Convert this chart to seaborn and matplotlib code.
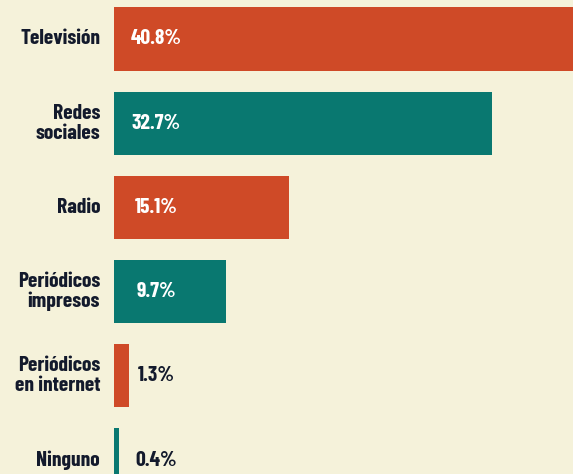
import matplotlib
matplotlib.use("Agg")
import matplotlib.pyplot as plt
from matplotlib import font_manager as fm
import seaborn as sns
import pandas as pd

categories = ["Televisión", "Redes\nsociales", "Radio", "Periódicos\nimpresos",
              "Periódicos\nen internet", "Ninguno"]
values = [40.8, 32.7, 15.1, 9.7, 1.3, 0.4]
bar_colors = ["#cf4a27", "#097870", "#cf4a27", "#097870", "#cf4a27", "#097870"]

BG = "#f5f2da"
INK = "#131a2c"

# Pick a bold condensed face, falling back to DejaVu Sans
installed = {f.name for f in fm.fontManager.ttflist}
font_name = "DejaVu Sans"
for cand in ["Barlow Condensed", "Roboto Condensed", "Oswald", "Archivo Narrow",
             "PT Sans Narrow", "Liberation Sans Narrow"]:
    if cand in installed:
        font_name = cand
        break

sns.set_theme(style="white")
plt.rcParams["font.family"] = [font_name, "DejaVu Sans"]

df = pd.DataFrame({"medio": categories, "pct": values})

fig = plt.figure(figsize=(5.73, 4.74), dpi=100, facecolor=BG)
ax = fig.add_axes([114 / 573, 0, (573 - 114) / 573, 1])
ax.set_facecolor(BG)

sns.barplot(data=df, y="medio", x="pct", hue="medio", palette=bar_colors,
            orient="h", width=0.75, legend=False, ax=ax, saturation=1,
            linewidth=0)

ax.set_xlim(0, 39.7)
ax.set_ylim(5.166, -0.463)
for s in ax.spines.values():
    s.set_visible(False)
ax.set_xticks([])
ax.set_yticks([])
ax.set_xlabel("")
ax.set_ylabel("")

for i, (cat, v) in enumerate(zip(categories, values)):
    ax.annotate(cat, xy=(0, i), xytext=(-10, 0), textcoords="offset points",
                ha="right", va="center", fontsize=15.5, fontweight="bold",
                color=INK, linespacing=1.08, annotation_clip=False)
    inside = v > 5
    ax.annotate(f"{v}%", xy=(0, i), xytext=(30.5, 0), textcoords="offset points",
                ha="center", va="center", fontsize=15.5, fontweight="bold",
                color="white" if inside else INK, annotation_clip=False)

fig.savefig("out.png", dpi=100, facecolor=BG)
